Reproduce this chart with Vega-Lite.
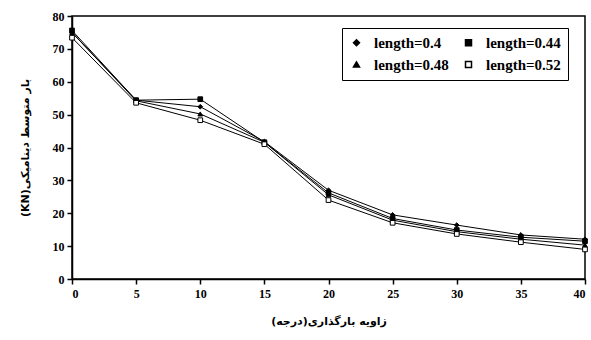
{
  "$schema": "https://vega.github.io/schema/vega-lite/v6.json",
  "width": 513,
  "height": 263,
  "autosize": {"type": "none"},
  "padding": {"left": 72, "top": 16, "right": 6, "bottom": 61},
  "background": "white",
  "config": {
    "view": {"stroke": "black", "strokeWidth": 1.5},
    "axis": {
      "grid": false,
      "domainColor": "black",
      "domainWidth": 1.5,
      "tickColor": "black",
      "tickWidth": 1.5,
      "tickSize": 5,
      "labelFont": "Liberation Serif",
      "labelFontWeight": "bold",
      "labelFontSize": 12,
      "labelColor": "black",
      "titleFont": "DejaVu Sans",
      "titleFontWeight": "bold",
      "titleFontSize": 11,
      "titleColor": "black"
    },
    "legend": {
      "orient": "none", "legendX": 270, "legendY": 12, "columns": 2,
      "strokeColor": "black", "padding": 7, "columnPadding": 12, "rowPadding": 6,
      "labelFont": "Liberation Serif", "labelFontWeight": "bold", "labelFontSize": 15, "labelColor": "black",
      "labelOffset": 10,
      "fillColor": "white"
    }
  },
  "data": {
    "values": [
      {"angle": 0, "load": 75.0, "series": "length=0.4"},
      {"angle": 5, "load": 54.4, "series": "length=0.4"},
      {"angle": 10, "load": 52.4, "series": "length=0.4"},
      {"angle": 15, "load": 41.8, "series": "length=0.4"},
      {"angle": 20, "load": 27.0, "series": "length=0.4"},
      {"angle": 25, "load": 19.5, "series": "length=0.4"},
      {"angle": 30, "load": 16.4, "series": "length=0.4"},
      {"angle": 35, "load": 13.4, "series": "length=0.4"},
      {"angle": 40, "load": 12.1, "series": "length=0.4"},
      {"angle": 0, "load": 75.6, "series": "length=0.44"},
      {"angle": 5, "load": 54.4, "series": "length=0.44"},
      {"angle": 10, "load": 54.7, "series": "length=0.44"},
      {"angle": 15, "load": 41.6, "series": "length=0.44"},
      {"angle": 20, "load": 26.2, "series": "length=0.44"},
      {"angle": 25, "load": 18.4, "series": "length=0.44"},
      {"angle": 30, "load": 14.9, "series": "length=0.44"},
      {"angle": 35, "load": 12.7, "series": "length=0.44"},
      {"angle": 40, "load": 11.5, "series": "length=0.44"},
      {"angle": 0, "load": 75.0, "series": "length=0.48"},
      {"angle": 5, "load": 54.2, "series": "length=0.48"},
      {"angle": 10, "load": 50.2, "series": "length=0.48"},
      {"angle": 15, "load": 41.6, "series": "length=0.48"},
      {"angle": 20, "load": 25.6, "series": "length=0.48"},
      {"angle": 25, "load": 17.9, "series": "length=0.48"},
      {"angle": 30, "load": 14.4, "series": "length=0.48"},
      {"angle": 35, "load": 12.1, "series": "length=0.48"},
      {"angle": 40, "load": 10.3, "series": "length=0.48"},
      {"angle": 0, "load": 73.4, "series": "length=0.52"},
      {"angle": 5, "load": 53.6, "series": "length=0.52"},
      {"angle": 10, "load": 48.3, "series": "length=0.52"},
      {"angle": 15, "load": 41.0, "series": "length=0.52"},
      {"angle": 20, "load": 24.0, "series": "length=0.52"},
      {"angle": 25, "load": 17.1, "series": "length=0.52"},
      {"angle": 30, "load": 13.7, "series": "length=0.52"},
      {"angle": 35, "load": 11.2, "series": "length=0.52"},
      {"angle": 40, "load": 9.0, "series": "length=0.52"}
    ]
  },
  "encoding": {
    "x": {
      "field": "angle", "type": "quantitative",
      "scale": {"domain": [0, 40], "nice": false},
      "axis": {"values": [0, 5, 10, 15, 20, 25, 30, 35, 40], "title": "زاویه بارگذاری(درجه)", "titlePadding": 16, "labelPadding": 4}
    },
    "y": {
      "field": "load", "type": "quantitative",
      "scale": {"domain": [0, 80], "nice": false},
      "axis": {"values": [0, 10, 20, 30, 40, 50, 60, 70, 80], "title": "(KN)بار متوسط دینامیکی", "titlePadding": 22, "labelPadding": 3}
    }
  },
  "layer": [
    {
      "mark": {"type": "line", "color": "black", "strokeWidth": 1},
      "encoding": {"detail": {"field": "series"}}
    },
    {
      "mark": {"type": "point", "stroke": "black", "strokeWidth": 1, "opacity": 1, "size": 22},
      "encoding": {
        "shape": {
          "field": "series", "type": "nominal",
          "scale": {"domain": ["length=0.4", "length=0.48", "length=0.44", "length=0.52"], "range": ["diamond", "triangle-up", "square", "square"]},
          "legend": {
            "title": null, "symbolSize": 36,
            "encode": {"symbols": {"stroke": {"value": "black"}, "strokeWidth": {"value": 1}}}
          }
        },
        "fill": {
          "field": "series", "type": "nominal",
          "scale": {"domain": ["length=0.4", "length=0.48", "length=0.44", "length=0.52"], "range": ["black", "black", "black", "white"]},
          "legend": {
            "title": null, "symbolSize": 36,
            "encode": {"symbols": {"stroke": {"value": "black"}, "strokeWidth": {"value": 1}}}
          }
        }
      }
    }
  ]
}
